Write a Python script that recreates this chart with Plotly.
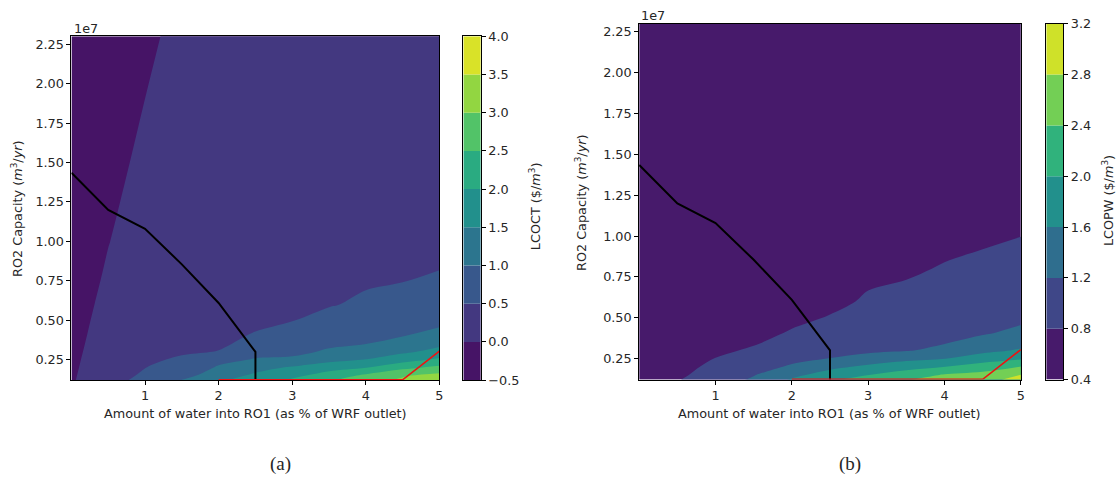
import plotly.graph_objects as go
from plotly.colors import sample_colorscale

# ---------------- data ----------------
water_pct = [0, 0.5, 1, 1.5, 2, 2.5, 3, 3.5, 4, 4.5, 5]
capacity_e7 = [0.12, 0.15, 0.2, 0.25, 0.3, 0.4, 0.5, 0.6, 0.8, 1.0, 1.5, 2.3]

# LCOCT values, one list per water_pct value (along capacity_e7)
lcoct_x0 = [-0.042, -0.048, -0.059, -0.069, -0.081, -0.10, -0.119, -0.142, -0.208, -0.25, -0.32, -0.40]
lcoct_x05 = [0.31, 0.27, 0.23, 0.20, 0.18, 0.14, 0.11, 0.085, 0.04, -0.01, -0.11, -0.25]
lcoct_x1 = [0.66, 0.58, 0.495, 0.447, 0.409, 0.354, 0.314, 0.283, 0.229, 0.18, 0.078, -0.076]
lcoct_x15 = [1.02, 0.837, 0.654, 0.543, 0.469, 0.376, 0.319, 0.28, 0.23, 0.197, 0.149, 0.105]
lcoct_x2 = [1.42, 1.25, 1.06, 0.86, 0.51, 0.42, 0.36, 0.32, 0.27, 0.235, 0.19, 0.15]
lcoct_x25 = [1.75, 1.6, 1.33, 1.04, 0.85, 0.53, 0.43, 0.38, 0.32, 0.28, 0.23, 0.19]
lcoct_x3 = [2.07, 1.88, 1.57, 1.08, 0.9, 0.66, 0.49, 0.43, 0.36, 0.32, 0.26, 0.22]
lcoct_x35 = [2.43, 2.2, 1.84, 1.35, 1.06, 0.8, 0.6, 0.48, 0.4, 0.35, 0.29, 0.25]
lcoct_x4 = [2.83, 2.6, 1.99, 1.52, 1.17, 0.83, 0.68, 0.55, 0.44, 0.39, 0.32, 0.28]
lcoct_x45 = [3.08, 2.95, 2.38, 1.8, 1.42, 0.99, 0.8, 0.62, 0.45, 0.42, 0.35, 0.3]
lcoct_x5 = [3.4, 3.17, 2.62, 2.1, 1.66, 1.15, 0.88, 0.75, 0.505, 0.45, 0.4, 0.35]

# LCOPW values, one list per water_pct value (along capacity_e7)
lcopw_x0 = [0.60, 0.59, 0.58, 0.57, 0.56, 0.55, 0.54, 0.53, 0.52, 0.51, 0.50, 0.48]
lcopw_x05 = [0.78, 0.74, 0.70, 0.67, 0.65, 0.62, 0.60, 0.58, 0.56, 0.55, 0.53, 0.51]
lcopw_x1 = [1.0, 0.94, 0.87, 0.805, 0.77, 0.72, 0.69, 0.66, 0.62, 0.60, 0.57, 0.54]
lcopw_x15 = [1.26, 1.18, 1.04, 0.93, 0.82, 0.75, 0.72, 0.69, 0.65, 0.62, 0.59, 0.56]
lcopw_x2 = [1.65, 1.5, 1.25, 1.1, 0.98, 0.82, 0.76, 0.72, 0.68, 0.65, 0.61, 0.58]
lcopw_x25 = [1.95, 1.78, 1.5, 1.21, 1.05, 0.9, 0.81, 0.76, 0.71, 0.68, 0.64, 0.6]
lcopw_x3 = [2.15, 1.99, 1.68, 1.36, 1.12, 0.95, 0.86, 0.82, 0.76, 0.71, 0.67, 0.62]
lcopw_x35 = [2.38, 2.2, 1.85, 1.5, 1.18, 1.0, 0.91, 0.84, 0.78, 0.75, 0.7, 0.65]
lcopw_x4 = [2.55, 2.43, 1.99, 1.59, 1.28, 1.08, 0.98, 0.91, 0.81, 0.76, 0.72, 0.67]
lcopw_x45 = [2.65, 2.52, 2.2, 1.8, 1.5, 1.18, 1.05, 0.97, 0.83, 0.78, 0.74, 0.69]
lcopw_x5 = [2.95, 2.81, 2.41, 1.95, 1.64, 1.3, 1.12, 1.02, 0.9, 0.798, 0.76, 0.7]

# constraint lines
black_x = [0, 0.5, 1, 1.5, 2, 2.5, 2.5]
black_y_e7 = [1.435, 1.2, 1.08, 0.855, 0.61, 0.30, 0.12]
red_x = [2, 4.5, 5]
red_y_e7 = [0.1235, 0.1235, 0.305]

# contour levels / ticks
lcoct_levels = [-0.5, 0.0, 0.5, 1.0, 1.5, 2.0, 2.5, 3.0, 3.5, 4.0]
lcoct_ticktext = ["\u22120.5", "0.0", "0.5", "1.0", "1.5", "2.0", "2.5", "3.0", "3.5", "4.0"]
lcopw_levels = [0.4, 0.8, 1.2, 1.6, 2.0, 2.4, 2.8, 3.2]
lcopw_ticktext = ["0.4", "0.8", "1.2", "1.6", "2.0", "2.4", "2.8", "3.2"]
ytick_e7 = [0.25, 0.5, 0.75, 1.0, 1.25, 1.5, 1.75, 2.0, 2.25]
ytick_text = ["0.25", "0.50", "0.75", "1.00", "1.25", "1.50", "1.75", "2.00", "2.25"]
xtick_vals = [1, 2, 3, 4, 5]

# ---------------- helpers ----------------
W, H = 1120, 478
FONT = "DejaVu Sans"
TXT = "#262626"
FS = 12.8
Y_RANGE = [1.215e6, 2.3e7]


def px_x(p):
    return p / W


def px_y(p):
    # slight vertical correction for the rendering
    q = (p - 4.85) / 0.974
    return 1 - q / H


cap = [v * 1e7 for v in capacity_e7]
z_a = [list(r) for r in zip(lcoct_x0, lcoct_x05, lcoct_x1, lcoct_x15, lcoct_x2, lcoct_x25,
                            lcoct_x3, lcoct_x35, lcoct_x4, lcoct_x45, lcoct_x5)]
z_b = [list(r) for r in zip(lcopw_x0, lcopw_x05, lcopw_x1, lcopw_x15, lcopw_x2, lcopw_x25,
                            lcopw_x3, lcopw_x35, lcopw_x4, lcopw_x45, lcopw_x5)]


def band_colors(levels):
    n = len(levels) - 1
    return sample_colorscale("Viridis", [(k + 0.5) / n for k in range(n)])


def contour_scale(levels):
    cols = band_colors(levels)
    n = len(cols) - 1
    return [[k / n, c] for k, c in enumerate(cols)]


cols_a = band_colors(lcoct_levels)
cols_b = band_colors(lcopw_levels)

fig = go.Figure()

# (a) contour
fig.add_trace(go.Contour(
    x=water_pct, y=cap, z=z_a, autocontour=False,
    contours=dict(start=lcoct_levels[1], end=lcoct_levels[-2],
                  size=lcoct_levels[1] - lcoct_levels[0], coloring="fill", showlines=False),
    colorscale=contour_scale(lcoct_levels), showscale=False, line=dict(width=0),
    xaxis="x", yaxis="y", hoverinfo="skip"))
fig.add_trace(go.Scatter(x=black_x, y=[v * 1e7 for v in black_y_e7], mode="lines",
                         line=dict(color="black", width=2), xaxis="x", yaxis="y", showlegend=False))
fig.add_trace(go.Scatter(x=red_x, y=[v * 1e7 for v in red_y_e7], mode="lines",
                         line=dict(color="#ee1111", width=1.6), xaxis="x", yaxis="y", showlegend=False))

# (a) colorbar
fig.add_trace(go.Bar(x=[0] * (len(lcoct_levels) - 1),
                     y=[b - a for a, b in zip(lcoct_levels[:-1], lcoct_levels[1:])],
                     base=lcoct_levels[:-1], marker=dict(color=cols_a, line=dict(width=0)),
                     width=1, xaxis="x2", yaxis="y2", showlegend=False, hoverinfo="skip"))

# (b) contour
fig.add_trace(go.Contour(
    x=water_pct, y=cap, z=z_b, autocontour=False,
    contours=dict(start=lcopw_levels[1], end=lcopw_levels[-2],
                  size=round(lcopw_levels[1] - lcopw_levels[0], 6), coloring="fill", showlines=False),
    colorscale=contour_scale(lcopw_levels), showscale=False, line=dict(width=0),
    xaxis="x3", yaxis="y3", hoverinfo="skip"))
fig.add_trace(go.Scatter(x=black_x, y=[v * 1e7 for v in black_y_e7], mode="lines",
                         line=dict(color="black", width=2), xaxis="x3", yaxis="y3", showlegend=False))
fig.add_trace(go.Scatter(x=red_x, y=[v * 1e7 for v in red_y_e7], mode="lines",
                         line=dict(color="#ee1111", width=1.6), xaxis="x3", yaxis="y3", showlegend=False))

# (b) colorbar
fig.add_trace(go.Bar(x=[0] * (len(lcopw_levels) - 1),
                     y=[round(b - a, 6) for a, b in zip(lcopw_levels[:-1], lcopw_levels[1:])],
                     base=lcopw_levels[:-1], marker=dict(color=cols_b, line=dict(width=0)),
                     width=1, xaxis="x4", yaxis="y4", showlegend=False, hoverinfo="skip"))

axis_common = dict(showline=True, mirror=True, linecolor="black", linewidth=1,
                   showgrid=False, zeroline=False, ticks="outside", ticklen=4, tickwidth=1,
                   tickcolor="black", tickfont=dict(family=FONT, size=FS, color=TXT))

ya_dom = [px_y(379), px_y(33.3)]
yb_dom = [px_y(378.5), px_y(20.7)]

fig.update_layout(
    width=W, height=H, margin=dict(l=0, r=0, t=0, b=0),
    paper_bgcolor="white", plot_bgcolor="white", showlegend=False, barmode="overlay",
    font=dict(family=FONT, size=FS, color=TXT),
    xaxis=dict(domain=[px_x(71.7), px_x(441)], range=[0, 5], tickvals=xtick_vals,
               anchor="y", **axis_common),
    yaxis=dict(domain=ya_dom, range=Y_RANGE, tickvals=[v * 1e7 for v in ytick_e7],
               ticktext=ytick_text, anchor="x", **axis_common),
    xaxis2=dict(domain=[px_x(465), px_x(482.5)], range=[-0.5, 0.5], anchor="y2",
                showline=True, mirror=True, linecolor="black", linewidth=1, showgrid=False,
                zeroline=False, ticks="", showticklabels=False),
    yaxis2=dict(domain=ya_dom, range=[lcoct_levels[0], lcoct_levels[-1]], side="right",
                tickvals=lcoct_levels, ticktext=lcoct_ticktext, anchor="x2", **axis_common),
    xaxis3=dict(domain=[px_x(641.5), px_x(1024.5)], range=[0, 5], tickvals=xtick_vals,
                anchor="y3", **axis_common),
    yaxis3=dict(domain=yb_dom, range=Y_RANGE, tickvals=[v * 1e7 for v in ytick_e7],
                ticktext=ytick_text, anchor="x3", **axis_common),
    xaxis4=dict(domain=[px_x(1050), px_x(1067)], range=[-0.5, 0.5], anchor="y4",
                showline=True, mirror=True, linecolor="black", linewidth=1, showgrid=False,
                zeroline=False, ticks="", showticklabels=False),
    yaxis4=dict(domain=yb_dom, range=[lcopw_levels[0], lcopw_levels[-1]], side="right",
                tickvals=lcopw_levels, ticktext=lcopw_ticktext, anchor="x4", **axis_common),
)

ann = []


def add_text(x, y, text, size=FS, angle=0, xanchor="center", family=FONT):
    ann.append(dict(x=px_x(x), y=px_y(y), xref="paper", yref="paper", text=text,
                    showarrow=False, textangle=angle, xanchor=xanchor, yanchor="middle",
                    font=dict(family=family, size=size, color=TXT)))


ylab = "RO2 Capacity (<i>m</i><sup>3</sup>/<i>yr</i>)"
xlab = "Amount of water into RO1 (as % of WRF outlet)"
add_text(17, 206, ylab, angle=-90)
add_text(256.4, 413, xlab)
add_text(72, 25, "1e7", xanchor="left")
add_text(537, 204, "LCOCT ($/<i>m</i><sup>3</sup>)", angle=-90)
add_text(583, 200, ylab, angle=-90)
add_text(832, 413, xlab)
add_text(641, 12.5, "1e7", xanchor="left")
add_text(1112, 199, "LCOPW ($/<i>m</i><sup>3</sup>)", angle=-90)
add_text(282, 463, "(a)", size=19, family="Liberation Serif")
add_text(853, 463, "(b)", size=19, family="Liberation Serif")
fig.update_layout(annotations=ann)

fig.write_html("out.html")
